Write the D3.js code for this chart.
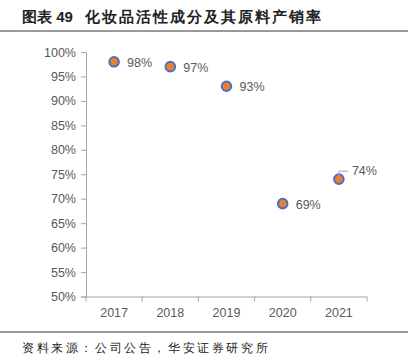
<!DOCTYPE html>
<html>
<head>
<meta charset="utf-8">
<script src="https://cdn.jsdelivr.net/npm/d3@7.9.0/dist/d3.min.js"></script>
<style>
  body { margin: 0; background: #fff; }
  text { font-family: "Liberation Sans", Arial, sans-serif; }
</style>
</head>
<body>
<svg id="chart" width="415" height="362"></svg>
<script>
const years = ['2017', '2018', '2019', '2020', '2021'];
const rates = [0.98, 0.97, 0.93, 0.69, 0.74];
const yTicks = [0.5, 0.55, 0.6, 0.65, 0.7, 0.75, 0.8, 0.85, 0.9, 0.95, 1.0];

const svg = d3.select('#chart');
const cjk = '"Noto Sans CJK SC", sans-serif';

// title + rules
svg.append('text')
  .attr('x', 22).attr('y', 22)
  .attr('font-family', cjk)
  .attr('font-weight', 'bold')
  .attr('font-size', 15)
  .attr('fill', '#222')
  .text('图表 49');
svg.append('text')
  .attr('x', 85).attr('y', 22)
  .attr('font-family', cjk)
  .attr('font-weight', 'bold')
  .attr('font-size', 15)
  .attr('letter-spacing', 2)
  .attr('fill', '#222')
  .text('化妆品活性成分及其原料产销率');
svg.append('line').attr('x1', 0).attr('x2', 408).attr('y1', 31).attr('y2', 31)
  .attr('stroke', '#333').attr('stroke-width', 1);
svg.append('line').attr('x1', 0).attr('x2', 408).attr('y1', 332).attr('y2', 332)
  .attr('stroke', '#333').attr('stroke-width', 1);
svg.append('text')
  .attr('x', 22).attr('y', 352)
  .attr('font-family', cjk)
  .attr('font-size', 12)
  .attr('letter-spacing', 2.6)
  .attr('fill', '#222')
  .text('资料来源：公司公告，华安证券研究所');

// scales
const x = d3.scaleBand().domain(years).range([86, 367]);
const y = d3.scaleLinear().domain([0.5, 1.0]).range([296.5, 52]);

const axisColor = '#a6a6a6';
const labelColor = '#595959';

const yAxis = svg.append('g')
  .attr('transform', 'translate(86,0)')
  .call(d3.axisLeft(y).tickValues(yTicks).tickSize(5).tickPadding(5)
    .tickFormat(d3.format('.0%')));
const xAxis = svg.append('g')
  .attr('transform', 'translate(0,296.5)')
  .call(d3.axisBottom(x).tickSize(0).tickPadding(12));

// x tick marks at band boundaries
const bounds = years.map(d => x(d)).concat([x.range()[1]]);
svg.append('g').selectAll('line').data(bounds).join('line')
  .attr('x1', d => d).attr('x2', d => d)
  .attr('y1', 296.5).attr('y2', 301.5)
  .attr('stroke', axisColor);

[yAxis, xAxis].forEach(g => {
  g.select('.domain').attr('stroke', axisColor);
  g.selectAll('.tick line').attr('stroke', axisColor);
  g.selectAll('.tick text').attr('fill', labelColor).attr('font-size', 12.5)
    .attr('font-family', '"Liberation Sans", Arial, sans-serif');
});
xAxis.select('.domain').attr('d', `M86,0.5H367`);

// points
const cx = d => x(d) + x.bandwidth() / 2;
svg.append('g').selectAll('circle').data(years).join('circle')
  .attr('cx', d => cx(d))
  .attr('cy', (d, i) => y(rates[i]))
  .attr('r', 4.8)
  .attr('fill', '#ED7D31')
  .attr('stroke', '#4472C4')
  .attr('stroke-width', 2);

// labels
const fmt = d3.format('.0%');
svg.append('g').selectAll('text').data(years).join('text')
  .attr('x', d => cx(d) + 13)
  .attr('y', (d, i) => i === 4 ? y(rates[i]) - 4 : y(rates[i]) + 5)
  .attr('fill', labelColor)
  .attr('font-size', 12.5)
  .text((d, i) => fmt(rates[i]));

// leader line for last label
const lx = cx(years[4]), ly = y(rates[4]);
svg.append('path')
  .attr('d', `M${lx},${ly - 2}V${ly - 8}H${lx + 9}`)
  .attr('fill', 'none')
  .attr('stroke', axisColor)
  .attr('stroke-width', 1);
</script>
</body>
</html>
